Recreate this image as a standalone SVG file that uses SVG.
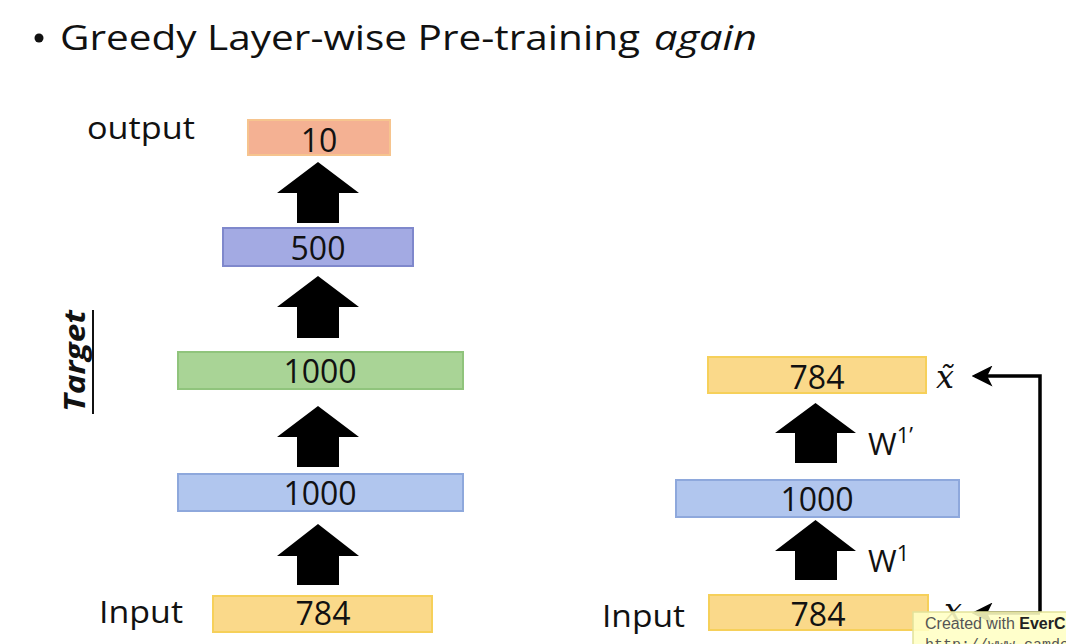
<svg xmlns="http://www.w3.org/2000/svg" width="1066" height="644" viewBox="0 0 1066 644">
<style>
.t{font-family:"Open Sans","Liberation Sans",sans-serif;fill:#111}
.num{font-family:"Open Sans","Liberation Sans",sans-serif;font-size:32px;fill:#111;text-anchor:middle}
.lbl{font-family:"Open Sans","Liberation Sans",sans-serif;font-size:31px;fill:#111}
.blk{fill:#000}
.orange{fill:#f4b193;stroke:#f6c48e;stroke-width:2}
.purple{fill:#a3aae3;stroke:#7f88cc;stroke-width:2}
.green{fill:#a9d496;stroke:#90c47c;stroke-width:2}
.lblue{fill:#b1c6ee;stroke:#8ea8dc;stroke-width:2}
.yellow{fill:#fad98a;stroke:#f6d05a;stroke-width:2}
.conn{fill:none;stroke:#000;stroke-width:3.5}
</style>
<defs>
<marker id="ah" markerWidth="6" markerHeight="6" refX="5" refY="3" orient="auto" markerUnits="strokeWidth">
<path d="M0,0 L6,3 L0,6 L1.5,3 Z" fill="#000"/>
</marker>
</defs>
<rect width="1066" height="644" fill="#fff"/>
<g id="title">
<circle cx="39" cy="38" r="4.5" fill="#111"/>
<text class="t" x="60" y="50" font-size="35" textLength="580" lengthAdjust="spacingAndGlyphs">Greedy Layer-wise Pre-training</text>
<text class="t" x="654" y="50" font-size="35" font-style="italic" textLength="103" lengthAdjust="spacingAndGlyphs">again</text>
</g>
<g id="left-output-label"><text class="lbl" x="87" y="139" textLength="108" lengthAdjust="spacingAndGlyphs">output</text></g>
<g id="left-10"><rect class="orange" x="248" y="120" width="142" height="35"/><text class="num" x="319" y="152">10</text></g>
<g id="left-500"><rect class="purple" x="223" y="228" width="190" height="38"/><text class="num" x="318" y="260">500</text></g>
<g id="target-label">
<text class="t" transform="translate(85,412) rotate(-90)" font-size="29" font-weight="bold" font-style="italic" textLength="102" lengthAdjust="spacingAndGlyphs">Target</text>
<line x1="93" y1="310" x2="93" y2="414" stroke="#111" stroke-width="2"/>
</g>
<g id="left-1000-green"><rect class="green" x="178" y="352" width="285" height="37"/><text class="num" x="320" y="383">1000</text></g>
<g id="left-1000-blue"><rect class="lblue" x="178" y="474" width="285" height="37"/><text class="num" x="320" y="505">1000</text></g>
<g id="left-784"><rect class="yellow" x="213" y="596" width="219" height="36"/><text class="num" x="323" y="625">784</text></g>
<g id="left-input-label"><text class="lbl" x="99" y="623" textLength="84" lengthAdjust="spacingAndGlyphs">Input</text></g>

<g id="right-784-top"><rect class="yellow" x="708" y="357" width="218" height="36"/><text class="num" x="817" y="389">784</text></g>
<g id="right-xtilde"><text x="936" y="388" font-family="DejaVu Serif, serif" font-style="italic" font-size="32" fill="#111">x̃</text></g>
<g id="right-1000"><rect class="lblue" x="676" y="480" width="283" height="37"/><text class="num" x="817" y="511">1000</text></g>
<g id="right-784-bottom"><rect class="yellow" x="709" y="595" width="219" height="35"/><text class="num" x="818" y="626">784</text></g>
<g id="right-input-label"><text class="lbl" x="602" y="627" textLength="83" lengthAdjust="spacingAndGlyphs">Input</text></g>
<g id="right-x"><text x="944" y="621" font-family="DejaVu Serif, serif" font-style="italic" font-size="32" fill="#111">x</text></g>
<g id="w1p-label"><text class="lbl" x="868" y="455" font-size="32">W<tspan font-size="22" dy="-12">1’</tspan></text></g>
<g id="w1-label"><text class="lbl" x="868" y="572" font-size="32">W<tspan font-size="22" dy="-11">1</tspan></text></g>

<g id="connectors">
<polygon class="blk" points="318,162 359,193 339,193 339,223 297,223 297,193 277,193"/>
<polygon class="blk" points="318,276 359,307 339,307 339,338 297,338 297,307 277,307"/>
<polygon class="blk" points="318,406 359,437 339,437 339,467 297,467 297,437 277,437"/>
<polygon class="blk" points="318,524 359,556 339,556 339,585 297,585 297,556 277,556"/>
<polygon class="blk" points="815.5,403 856,433 837,433 837,463 795,463 795,433 775,433"/>
<polygon class="blk" points="815.5,520 856,551 837,551 837,580 795,580 795,551 775,551"/>
<polyline class="conn" points="1040,613 1040,376 975,376" marker-end="url(#ah)"/>
<polyline class="conn" points="1040,613 975,613" marker-end="url(#ah)"/>
</g>

<g id="watermark">
<rect x="913" y="612" width="160" height="40" fill="#ffffc4" fill-opacity="0.88" stroke="#e2e29a" stroke-width="1.5"/>
<text x="925" y="629" font-family="Liberation Sans, sans-serif" font-size="16" fill="#555">Created with <tspan font-weight="bold" fill="#222">EverC</tspan></text>
<text x="925" y="649" font-family="Liberation Mono, monospace" font-size="15" fill="#555">http://www.camden</text>
</g>
</svg>
